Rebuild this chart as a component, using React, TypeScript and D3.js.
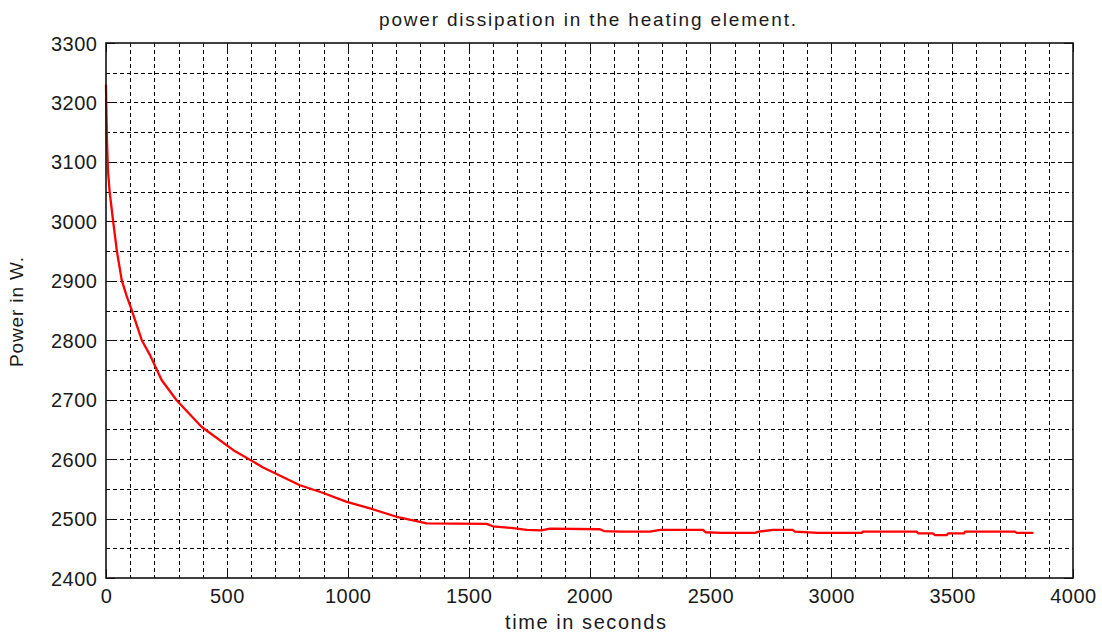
import React from "react";
import * as d3 from "d3";

const titleText = "power dissipation in the heating element.";
const xLabel = "time in seconds";
const yLabel = "Power in W.";

const xTicks = [0, 500, 1000, 1500, 2000, 2500, 3000, 3500, 4000];
const yTicks = [2400, 2500, 2600, 2700, 2800, 2900, 3000, 3100, 3200, 3300];

const timeS = [
  0, 1, 4, 8, 15, 29, 45, 65, 85, 106, 148, 182, 230, 292, 396, 527, 650, 802,
  899, 996, 1092, 1202, 1270, 1327, 1575, 1600, 1684, 1740, 1800, 1837, 2043,
  2060, 2126, 2250, 2292, 2470, 2480, 2547, 2685, 2700, 2760, 2840, 2850, 2945,
  2995, 3126, 3131, 3353, 3360, 3420, 3429, 3477, 3483, 3550, 3553, 3760, 3767, 3836,
];
const powerW = [
  3230, 3200, 3137, 3086, 3050, 3002, 2950, 2901, 2875, 2851, 2800, 2775, 2733,
  2699, 2654, 2615, 2586, 2556, 2543, 2528, 2517, 2503, 2497, 2492, 2491, 2487,
  2484, 2481, 2480, 2483, 2482, 2479, 2478, 2478, 2481, 2481, 2477, 2476, 2476,
  2478, 2481, 2481, 2478, 2476, 2476, 2476, 2478, 2478, 2475, 2475, 2472, 2472,
  2475, 2475, 2478, 2478, 2476, 2476,
];

const W = 1102;
const H = 635;
const margin = { left: 106, right: 29, top: 43, bottom: 57 };

export default function App() {
  const x = d3.scaleLinear().domain([0, 4000]).range([margin.left, W - margin.right]);
  const y = d3.scaleLinear().domain([2400, 3300]).range([H - margin.bottom, margin.top]);
  const xGrid = d3.range(100, 4000, 100);
  const yGrid = d3.range(2450, 3300, 50);
  const line = d3
    .line<number>()
    .x((_, i) => x(timeS[i]))
    .y((d) => y(d))
    .curve(d3.curveLinear);
  const x0 = x(0), x1 = x(4000), y0 = y(2400), y1 = y(3300);
  const font = "'Liberation Sans', Arial, sans-serif";
  const tick = 9;
  return (
    <svg width={W} height={H} style={{ position: "absolute", left: 0, top: 0, background: "#fff" }}>
      <rect x={0} y={0} width={W} height={H} fill="#fff" />
      <g stroke="#000" strokeWidth={1} strokeDasharray="4,3" shapeRendering="crispEdges">
        {xGrid.map((v) => (
          <line key={"xg" + v} x1={Math.round(x(v)) + 0.5} x2={Math.round(x(v)) + 0.5} y1={y1} y2={y0} />
        ))}
        {yGrid.map((v) => (
          <line key={"yg" + v} x1={x0} x2={x1} y1={Math.round(y(v)) + 0.5} y2={Math.round(y(v)) + 0.5} />
        ))}
      </g>
      <g stroke="#111" strokeWidth={1.5} shapeRendering="crispEdges">
        {xTicks.map((v) => (
          <g key={"xt" + v}>
            <line x1={Math.round(x(v)) + 0.5} x2={Math.round(x(v)) + 0.5} y1={y0} y2={y0 - tick} />
            <line x1={Math.round(x(v)) + 0.5} x2={Math.round(x(v)) + 0.5} y1={y1} y2={y1 + tick} />
          </g>
        ))}
        {yTicks.map((v) => (
          <g key={"yt" + v}>
            <line x1={x0} x2={x0 + tick} y1={Math.round(y(v)) + 0.5} y2={Math.round(y(v)) + 0.5} />
            <line x1={x1} x2={x1 - tick} y1={Math.round(y(v)) + 0.5} y2={Math.round(y(v)) + 0.5} />
          </g>
        ))}
      </g>
      <path d={line(powerW) || ""} fill="none" stroke="#ff0000" strokeWidth={2.3} strokeLinejoin="round" />
      <rect x={x0} y={y1} width={x1 - x0} height={y0 - y1} fill="none" stroke="#111" strokeWidth={1.6} />
      <g fontFamily={font} fontSize={20} fill="#1a1a1a" letterSpacing={0.5}>
        {xTicks.map((v) => (
          <text key={"xl" + v} x={x(v) + 0.5} y={y0 + 25} textAnchor="middle">{v}</text>
        ))}
        {yTicks.map((v) => (
          <text key={"yl" + v} x={x0 - 8.5} y={y(v) + 7.5} textAnchor="end">{v}</text>
        ))}
      </g>
      <text x={587.5} y={26} textAnchor="middle" fontFamily={font} fontSize={19} fill="#1a1a1a" textLength={417} lengthAdjust="spacing">{titleText}</text>
      <text x={585.5} y={629} textAnchor="middle" fontFamily={font} fontSize={20} fill="#1a1a1a" textLength={161} lengthAdjust="spacing">{xLabel}</text>
      <text transform={`translate(23, 312) rotate(-90)`} textAnchor="middle" fontFamily={font} fontSize={19} fill="#1a1a1a" textLength={110} lengthAdjust="spacing">{yLabel}</text>
    </svg>
  );
}
